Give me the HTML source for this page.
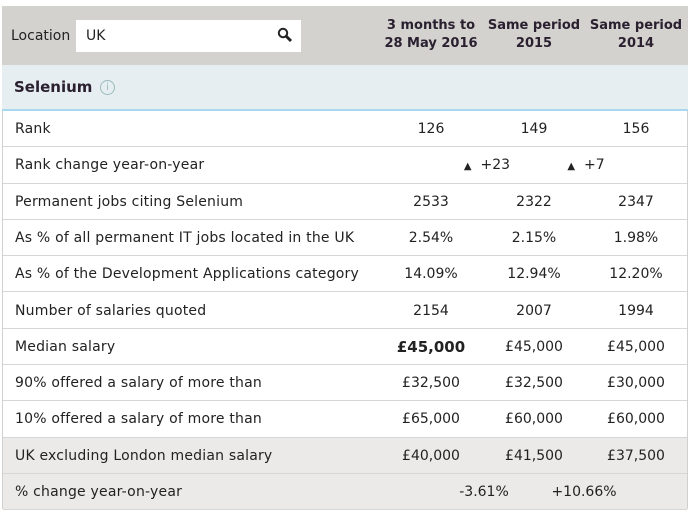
<!DOCTYPE html>
<html><head><meta charset="utf-8"><style>
body{margin:0;width:691px;height:519px;background:#fff;position:relative;font-family:"DejaVu Sans",Verdana,sans-serif;font-size:14px;color:#222;overflow:hidden}
.a{position:absolute}
#box{left:2px;top:6px;width:684px;height:502px;border:1px solid #d0d0d0;border-top:none}
.row{position:absolute;left:3px;width:684px;border-bottom:1px solid #d6d6d6}
.lbl{position:absolute;left:12px;top:0;line-height:36px;letter-spacing:0.2px}
.c{position:absolute;top:0;line-height:36px;width:100px;text-align:center;margin-left:-50px}
.h{position:absolute;width:110px;margin-left:-55px;text-align:center;font-weight:bold;font-size:13px;line-height:18px;top:17px;color:#2a2030}
</style></head><body>
<div class="a" id="box"></div>
<div class="a" style="left:2px;top:6px;width:686px;height:59px;background:#d4d2cf"></div>
<div class="a" style="left:11px;top:28px;font-size:14px">Location</div>
<div class="a" style="left:76px;top:20px;width:225px;height:32px;background:#fff"><span style="position:absolute;left:10px;top:8px;font-size:14px">UK</span>
<svg style="position:absolute;left:201px;top:7px" width="16" height="16"><circle cx="6" cy="6" r="4.2" fill="none" stroke="#222" stroke-width="2"/><line x1="9" y1="9" x2="14" y2="14" stroke="#222" stroke-width="3"/></svg></div>
<div class="h" style="left:431px">3 months to<br>28 May 2016</div>
<div class="h" style="left:534px">Same period<br>2015</div>
<div class="h" style="left:636px">Same period<br>2014</div>
<div class="a" style="left:2px;top:65px;width:686px;height:44px;background:#e6eef2;border-bottom:2px solid #a8d8f0"><span style="position:absolute;left:12px;top:13px;font-weight:bold;font-size:15px;color:#2a2030">Selenium</span><span style="position:absolute;left:98px;top:15px;width:13px;height:13px;border:1.5px solid #9bb;border-radius:50%;color:#9bb;font-size:10px;line-height:13px;text-align:center">i</span></div>
<div id="rows"></div>
<script>
const labels=["Rank","Rank change year-on-year","Permanent jobs citing Selenium","As % of all permanent IT jobs located in the UK","As % of the Development Applications category","Number of salaries quoted","Median salary","90% offered a salary of more than","10% offered a salary of more than","UK excluding London median salary","% change year-on-year"];
const col2016=["126","","2533","2.54%","14.09%","2154","£45,000","£32,500","£65,000","£40,000",""];
const col2015=["149","","2322","2.15%","12.94%","2007","£45,000","£32,500","£60,000","£41,500",""];
const col2014=["156","","2347","1.98%","12.20%","1994","£45,000","£30,000","£60,000","£37,500",""];
const betweenA=["","▲ +23","","","","","","","","","-3.61%"];
const betweenB=["","▲ +7","","","","","","","","","+10.66%"];
const R=document.getElementById('rows');
labels.forEach((l,i)=>{
 const r=document.createElement('div');r.className='row';
 
 
 const top=111+i*36.3;r.style.top=top+'px';r.style.height='35.3px';
 r.style.background=i>=9?'#ebeae8':'#fff';
 let h='<span class="lbl">'+l+'</span>';
 [[col2016,431],[col2015,534],[col2014,636]].forEach(([a,x],j)=>{if(a[i])h+='<span class="c" style="left:'+(x-3)+'px;'+(i==6&&j==0?'font-weight:bold;font-size:15px':'')+'">'+a[i]+'</span>';});
 if(betweenA[i])h+='<span class="c" style="left:'+(i==10?481:484)+'px">'+betweenA[i].replace('▲','<span style="font-size:10px">▲</span>&nbsp;')+'</span>';
 if(betweenB[i])h+='<span class="c" style="left:'+(i==10?581:583)+'px">'+betweenB[i].replace('▲','<span style="font-size:10px">▲</span>&nbsp;')+'</span>';
 r.innerHTML=h;R.appendChild(r);
});
</script>
</body></html>
